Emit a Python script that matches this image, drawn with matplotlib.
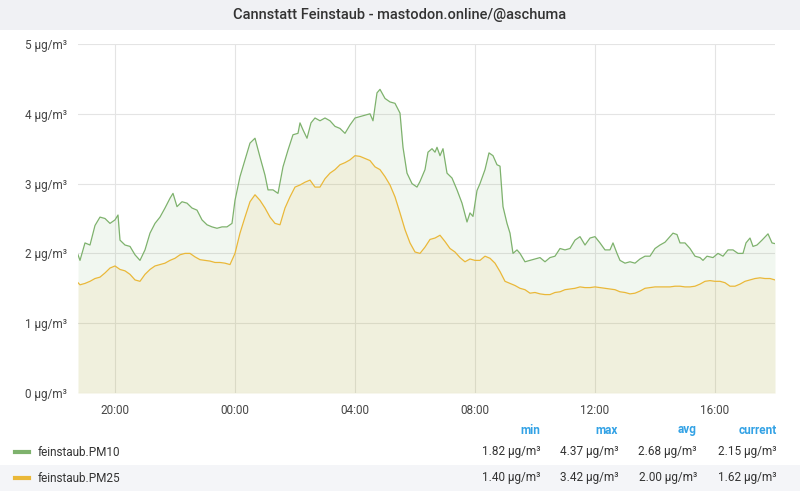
import matplotlib
matplotlib.use("Agg")
import matplotlib.pyplot as plt
from matplotlib.patches import Rectangle

plt.rcParams['font.family'] = ['Roboto', 'DejaVu Sans']

# minutes relative to 00:00
pm10_t = [-314,-310,-300,-290,-280,-270,-260,-250,-240,-234,-230,-220,-210,-200,-190,-180,-170,-160,-150,-140,-130,-124,-116,-106,-96,-86,-76,-66,-56,-46,-36,-26,-16,-6,
          0,10,20,30,40,50,60,66,76,86,96,106,116,126,130,136,144,152,160,170,180,190,200,210,220,230,240,250,260,270,276,284,290,300,310,320,330,336,344,354,364,370,380,386,394,400,404,410,416,424,434,444,454,464,470,476,484,490,500,508,516,524,530,536,544,550,556,564,570,
          580,590,600,610,620,630,640,650,660,670,680,690,700,710,720,730,740,750,756,764,770,780,790,800,810,820,830,840,850,860,870,876,884,890,900,910,920,930,936,944,956,966,976,986,996,1006,1016,1022,1030,1036,1044,1054,1066,1074,1080]
pm10_v = [1.98,1.9,2.15,2.12,2.4,2.52,2.5,2.43,2.48,2.55,2.19,2.12,2.1,1.98,1.9,2.05,2.29,2.43,2.52,2.65,2.79,2.86,2.67,2.74,2.72,2.65,2.62,2.48,2.41,2.38,2.36,2.38,2.38,2.43,
          2.76,3.1,3.34,3.58,3.65,3.38,3.12,2.91,2.91,2.86,3.24,3.48,3.7,3.72,3.87,3.77,3.65,3.87,3.94,3.9,3.94,3.9,3.82,3.79,3.72,3.84,3.94,3.96,3.98,4.0,3.9,4.3,4.35,4.22,4.17,4.15,4.01,3.52,3.15,3.0,2.95,3.03,3.2,3.45,3.5,3.45,3.52,3.4,3.5,3.15,3.08,2.91,2.72,2.45,2.58,2.53,2.9,3.0,3.2,3.44,3.4,3.27,3.25,2.67,2.43,2.29,2.0,2.05,2.0,
          1.88,1.9,1.92,1.94,1.88,1.94,1.96,2.07,2.05,2.07,2.19,2.24,2.12,2.22,2.24,2.15,2.05,2.05,2.15,2.0,1.9,1.86,1.88,1.86,1.92,1.96,1.96,2.07,2.12,2.16,2.24,2.29,2.27,2.15,2.15,2.07,1.96,1.94,1.9,1.96,1.94,2.0,1.96,2.05,2.05,2.0,2.0,2.15,2.22,2.1,2.12,2.19,2.28,2.15,2.14]

pm25_t = [-314, -310] + list(range(-300, 1081, 10))
pm25_v = [1.58,1.55,
          1.57,1.6,1.64,1.66,1.72,1.79,1.82,1.77,1.75,1.7,1.62,1.6,1.7,1.77,1.82,1.84,1.86,1.9,1.93,1.98,2.0,2.0,1.95,1.91,1.9,1.89,1.87,1.87,1.86,1.84,
          2.0,2.29,2.52,2.74,2.84,2.76,2.65,2.52,2.43,2.41,2.65,2.81,2.95,2.98,3.02,3.05,2.95,2.95,3.07,3.15,3.2,3.27,3.3,3.34,3.4,3.39,3.36,3.33,3.24,3.2,3.1,2.98,2.81,2.58,2.34,2.15,2.02,2.0,
          2.09,2.2,2.22,2.26,2.17,2.07,2.02,1.94,1.88,1.92,1.9,1.9,1.96,1.93,1.86,1.74,1.6,1.57,1.54,1.5,1.48,1.43,1.44,1.42,1.41,1.41,1.44,1.45,1.48,1.49,1.5,1.52,1.51,1.51,1.52,1.51,1.5,1.49,1.48,1.45,1.44,1.42,1.43,1.46,1.5,1.51,
          1.52,1.52,1.52,1.52,1.53,1.53,1.52,1.52,1.53,1.56,1.6,1.61,1.6,1.6,1.58,1.53,1.53,1.56,1.6,1.62,1.64,1.65,1.64,1.64,1.62]

tick_pos = [-240, 0, 240, 480, 720, 960]
tick_labels = ["20:00", "00:00", "04:00", "08:00", "12:00", "16:00"]
series_names = ["feinstaub.PM10", "feinstaub.PM25"]
stats_header = ["min", "max", "avg", "current"]
stats = [["1.82 µg/m³", "4.37 µg/m³", "2.68 µg/m³", "2.15 µg/m³"],
         ["1.40 µg/m³", "3.42 µg/m³", "2.00 µg/m³", "1.62 µg/m³"]]
colors = ["#7eb26d", "#eab839"]

fig = plt.figure(figsize=(8, 5), dpi=100)
fig.patch.set_facecolor("white")
# title bar
fig.patches.append(Rectangle((0, 1 - 30/500), 1, 30/500, transform=fig.transFigure,
                             facecolor="#f0f1f4", edgecolor="none", zorder=0))
fig.text(0.5, 1 - 15/500, "Cannstatt Feinstaub - mastodon.online/@aschuma", ha="center",
         va="center", fontsize=10.5, color="#333333", fontweight="medium")

ax = fig.add_axes([78/800, 1 - 393/500, (775-78)/800, (393-44)/500])
for t, v, c in [(pm10_t, pm10_v, colors[0]), (pm25_t, pm25_v, colors[1])]:
    ax.fill_between(t, v, 0, color=c, alpha=0.1, lw=0)
    ax.plot(t, v, color=c, lw=0.9)
ax.set_xlim(-314, 1080)
ax.set_ylim(0, 5)
ax.set_yticks(range(6))
ax.set_yticklabels([f"{i} µg/m³" for i in range(6)])
ax.set_xticks(tick_pos)
ax.set_xticklabels(tick_labels)
ax.grid(True, color="#e4e4e4", lw=0.8)
ax.set_axisbelow(True)
for s in ax.spines.values():
    s.set_visible(False)
ax.tick_params(length=0, labelsize=8.5, colors="#464646", pad=8)

# legend table
hx = [540, 618, 697, 777]
for x, h in zip(hx, stats_header):
    fig.text(x/800, 1 - 430/500, h, ha="right", va="center", fontsize=8.5,
             color="#33a2e5", fontweight="bold")
rows_y = [452, 478]
fig.patches.append(Rectangle((0, 1 - 491/500), 1, 26/500, transform=fig.transFigure,
                             facecolor="#f4f5f8", edgecolor="none", zorder=0))
for i, (name, st) in enumerate(zip(series_names, stats)):
    y = 1 - rows_y[i]/500
    fig.add_artist(plt.Line2D([15/800, 29/800], [y, y], transform=fig.transFigure,
                              color=colors[i], lw=3))
    fig.text(38/800, y, name, ha="left", va="center", fontsize=8.5, color="#333333")
    for x, s in zip(hx, st):
        fig.text(x/800, y, s, ha="right", va="center", fontsize=8.5, color="#333333")

fig.savefig("out.png", dpi=100)
